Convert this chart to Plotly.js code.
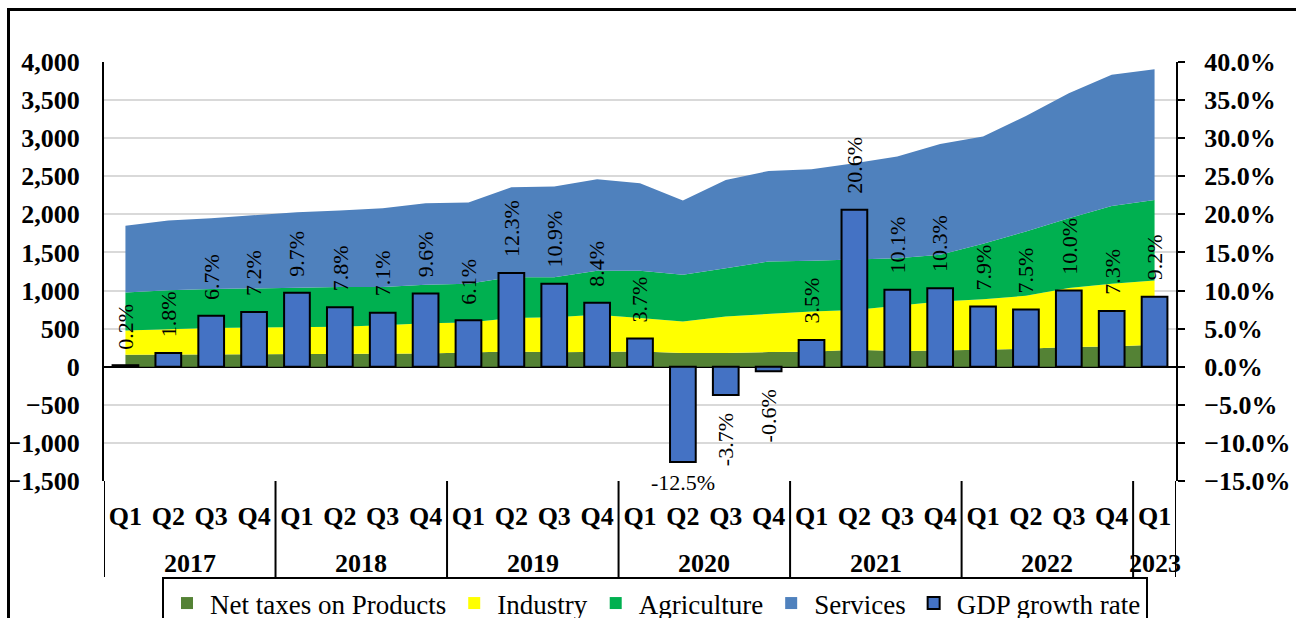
<!DOCTYPE html>
<html>
<head>
<meta charset="utf-8">
<script src="https://cdn.plot.ly/plotly-3.0.1.min.js"></script>
<style>
  html, body { margin: 0; padding: 0; background: #fff; }
  #chart { width: 1296px; height: 618px; }
</style>
</head>
<body>
<div id="chart"></div>
<script>
// ---- Data ----
const yearCats = ['2017','2017','2017','2017','2018','2018','2018','2018','2019','2019','2019','2019',
                  '2020','2020','2020','2020','2021','2021','2021','2021','2022','2022','2022','2022','2023'];
const quarterCats = ['Q1','Q2','Q3','Q4','Q1','Q2','Q3','Q4','Q1','Q2','Q3','Q4',
                     'Q1','Q2','Q3','Q4','Q1','Q2','Q3','Q4','Q1','Q2','Q3','Q4','Q1'];
const netTaxes    = [157,160,162,165,168,170,172,175,188,201,190,195,201,180,180,192,195,223,205,212,223,236,258,266,288];
const industry    = [319,334,345,350,352,355,373,395,393,437,461,487,437,415,480,503,531,522,595,645,664,695,774,823,844];
const agriculture = [499,511,513,515,520,520,500,505,508,538,525,578,621,612,634,686,664,665,625,612,726,844,918,1022,1058];
const services    = [874,914,930,963,988,1005,1036,1071,1066,1181,1189,1201,1150,974,1158,1189,1202,1261,1333,1456,1408,1517,1640,1723,1714];
const gdpGrowth   = [0.2,1.8,6.7,7.2,9.7,7.8,7.1,9.6,6.1,12.3,10.9,8.4,3.7,-12.5,-3.7,-0.6,3.5,20.6,10.1,10.3,7.9,7.5,10.0,7.3,9.2];

const seriesNames = ['Net taxes on Products','Industry','Agriculture','Services'];
const seriesValues = [netTaxes, industry, agriculture, services];
const seriesColors = ['#548235','#FFFF00','#00B050','#4F81BD'];
const barColor = '#4472C4';

const FONT = 'Liberation Serif, Times New Roman, serif';
const xIdx = quarterCats.map((_, i) => i);

const traces = [];
// stacked areas
seriesValues.forEach((vals, i) => {
  traces.push({
    type: 'scatter', mode: 'lines', x: xIdx, y: vals,
    stackgroup: 'gdp', fillcolor: seriesColors[i],
    line: {width: 0, color: seriesColors[i]},
    name: seriesNames[i], showlegend: false, hoverinfo: 'skip'
  });
});
// legend proxies (square swatches)
seriesValues.forEach((vals, i) => {
  traces.push({
    type: 'bar', x: [xIdx[0]], y: [null],
    marker: {color: seriesColors[i], line: {width: 0}},
    name: seriesNames[i], showlegend: true, hoverinfo: 'skip'
  });
});
// GDP growth bars
traces.push({
  type: 'bar', x: xIdx, y: gdpGrowth, yaxis: 'y2', width: 0.6,
  marker: {color: barColor, line: {color: '#000', width: 2}},
  name: 'GDP growth rate'
});

const pw = 1072, ph = 419;
const pyPaper = px => (481 - px) / ph;

// data labels
const annotations = gdpGrowth.map((v, i) => {
  const txt = v.toFixed(1) + '%';
  const base = {x: xIdx[i], xref: 'x', y: v, yref: 'y2', text: txt, showarrow: false,
                font: {family: FONT, size: 22, color: '#000'}, xanchor: 'center'};
  if (v >= 0) return Object.assign(base, {textangle: -90, yanchor: 'bottom', yshift: 14});
  if (v < -10) return Object.assign(base, {textangle: 0, yanchor: 'top', yshift: -6});
  return Object.assign(base, {textangle: -90, yanchor: 'top', yshift: -16});
});

// year group labels and dividers, derived from the category arrays
const groups = [];
yearCats.forEach((y, i) => {
  if (!groups.length || groups[groups.length - 1].year !== y) groups.push({year: y, start: i, end: i});
  else groups[groups.length - 1].end = i;
});
groups.forEach(g => {
  annotations.push({
    x: (xIdx[g.start] + xIdx[g.end]) / 2, xref: 'x', y: pyPaper(563), yref: 'paper',
    text: g.year, showarrow: false, xanchor: 'center', yanchor: 'middle',
    font: {family: FONT, size: 26, color: '#000', weight: 'bold'}
  });
});
const shapes = [];
const bounds = groups.map(g => xIdx[g.start] - 0.5).concat([xIdx[groups[groups.length - 1].end] + 0.5]);
bounds.forEach(b => {
  shapes.push({type: 'line', xref: 'x', yref: 'paper', x0: b, x1: b, y0: pyPaper(577), y1: 0,
               line: {color: '#000', width: 2}});
});
// outer chart border
shapes.push({
  type: 'rect', xref: 'paper', yref: 'paper', layer: 'above',
  x0: (8.5 - 104) / pw, x1: (1310 - 104) / pw,
  y0: pyPaper(660), y1: pyPaper(9.5),
  line: {color: '#000', width: 3}, fillcolor: 'rgba(0,0,0,0)'
});

const layout = {
  width: 1296, height: 618,
  margin: {l: 104, r: 120, t: 62, b: 137, autoexpand: false},
  paper_bgcolor: '#fff', plot_bgcolor: '#fff',
  font: {family: FONT, color: '#000'},
  barmode: 'overlay',
  showlegend: true,
  xaxis: {
    type: 'linear', range: [-0.5, 24.5],
    tickmode: 'array', tickvals: xIdx, ticktext: quarterCats,
    showgrid: false, showline: false, zeroline: false, ticks: '',
    ticklabelstandoff: 17,
    tickfont: {family: FONT, size: 26, color: '#000', weight: 'bold'}
  },
  yaxis: {
    range: [-1500, 4000], dtick: 500, tick0: 0, tickformat: ',d',
    showgrid: true, gridcolor: '#d9d9d9', gridwidth: 2,
    zeroline: true, zerolinecolor: '#000', zerolinewidth: 2,
    showline: true, linecolor: '#000', linewidth: 2, ticks: '',
    ticklabelstandoff: 17,
    tickfont: {family: FONT, size: 26, color: '#000', weight: 'bold'}
  },
  yaxis2: {
    overlaying: 'y', side: 'right',
    range: [-15, 40], dtick: 5, tick0: 0, tickformat: '.1f', ticksuffix: '%',
    showgrid: false, zeroline: false,
    showline: true, linecolor: '#000', linewidth: 2,
    ticks: 'outside', ticklen: 7, tickwidth: 2, tickcolor: '#000',
    ticklabelstandoff: 14,
    tickfont: {family: FONT, size: 26, color: '#000', weight: 'bold'}
  },
  legend: {
    orientation: 'h', x: (655 - 104) / pw, xanchor: 'center',
    y: pyPaper(577), yanchor: 'top',
    bgcolor: '#fff', bordercolor: '#000', borderwidth: 2,
    font: {family: FONT, size: 27, color: '#000'},
    itemwidth: 36,
    traceorder: 'normal'
  },
  shapes: shapes,
  annotations: annotations
};

Plotly.newPlot('chart', traces, layout, {displayModeBar: false, staticPlot: true});
</script>
</body>
</html>
